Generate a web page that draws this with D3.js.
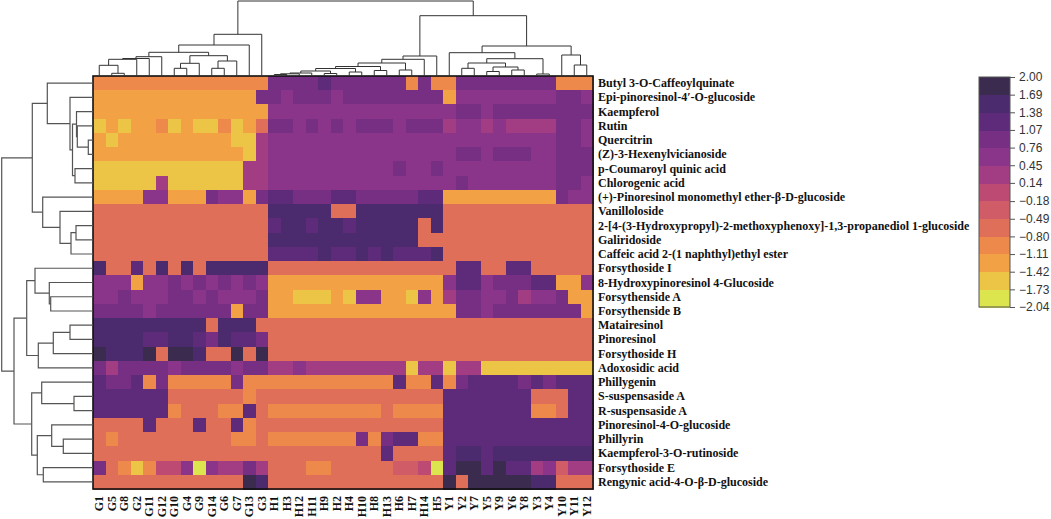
<!DOCTYPE html>
<html><head><meta charset="utf-8">
<script src="https://cdn.jsdelivr.net/npm/d3@7"></script>
<style>body{margin:0;background:#fff}</style>
</head><body>
<svg id="chart" width="1051" height="519"></svg>
<script>
const columns = ["G1","G5","G8","G2","G11","G12","G10","G4","G9","G14","G6","G7","G13","G3",
  "H1","H3","H12","H11","H9","H2","H4","H10","H8","H13","H6","H7","H14","H5",
  "Y1","Y2","Y7","Y5","Y9","Y6","Y8","Y3","Y4","Y10","Y11","Y12"];
const rows = ["Butyl 3-O-Caffeoylquinate","Epi-pinoresinol-4\u2032-O-glucoside","Kaempferol","Rutin","Quercitrin",
  "(Z)-3-Hexenylvicianoside","p-Coumaroyl quinic acid","Chlorogenic acid",
  "(+)-Pinoresinol monomethyl ether-\u03b2-D-glucoside","Vanilloloside",
  "2-[4-(3-Hydroxypropyl)-2-methoxyphenoxy]-1,3-propanediol 1-glucoside","Galiridoside",
  "Caffeic acid 2-(1 naphthyl)ethyl ester","Forsythoside I","8-Hydroxypinoresinol 4-Glucoside",
  "Forsythenside A","Forsythenside B","Matairesinol","Pinoresinol","Forsythoside H","Adoxosidic acid",
  "Phillygenin","S-suspensaside A","R-suspensaside A","Pinoresinol-4-O-glucoside","Phillyrin",
  "Kaempferol-3-O-rutinoside","Forsythoside E","Rengynic acid-4-O-\u03b2-D-glucoside"];

const values = [
[-0.95,-0.95,-0.95,-0.95,-0.95,-0.95,-0.95,-0.95,-0.95,-0.95,-0.95,-0.95,-0.95,-0.95, 0.91,0.91,0.91,0.91,1.22,0.91,0.91,0.91,0.91,0.91,0.91,-0.95,0.91,-0.95, -0.95,0.91,0.91,0.91,0.91,0.91,0.91,0.91,0.91,-0.95,-0.95,-0.95],
[-1.26,-1.26,-1.26,-1.26,-1.26,-1.26,-1.26,-1.26,-1.26,-1.26,-1.26,-1.26,-1.26,0.91, 0.91,0.6,0.91,0.91,0.91,0.6,0.91,0.91,0.91,0.91,0.91,0.91,0.91,0.91, -1.26,0.6,0.6,0.6,0.6,0.6,0.6,0.6,0.6,0.91,0.91,0.6],
[-1.26,-1.26,-1.26,-1.26,-1.26,-1.26,-1.26,-1.26,-1.26,-1.26,-1.26,-1.26,-1.26,-1.26, 0.6,0.6,0.6,0.6,0.6,0.6,0.6,0.6,0.6,0.6,0.6,0.6,0.6,0.6, 0.6,0.91,0.91,0.6,0.91,0.91,0.91,0.91,0.91,0.91,0.91,0.91],
[-1.57,-1.26,-1.57,-1.26,-1.26,-0.95,-1.57,-1.26,-1.57,-1.57,-0.95,-1.57,-1.26,-0.64, 0.91,0.91,0.6,0.91,0.6,0.91,0.6,0.91,0.91,0.91,0.6,0.91,0.91,0.91, 0.29,0.6,0.6,0.29,0.6,0.29,0.29,0.29,0.29,0.91,0.91,0.6],
[-1.26,-1.57,-1.26,-1.26,-1.26,-1.26,-1.26,-1.26,-1.26,-1.26,-1.26,-1.57,-1.57,0.29, 0.6,0.6,0.6,0.6,0.6,0.6,0.6,0.6,0.6,0.6,0.6,0.6,0.6,0.6, 0.6,0.6,0.6,0.6,0.6,0.6,0.6,0.6,0.6,0.91,0.91,0.6],
[-1.26,-1.26,-1.26,-1.26,-1.26,-1.26,-1.26,-1.26,-1.26,-1.26,-1.26,-1.26,-1.57,0.29, 0.6,0.6,0.6,0.6,0.6,0.6,0.6,0.6,0.6,0.6,0.6,0.6,0.6,0.6, 0.6,0.91,0.91,0.6,0.91,0.91,0.91,0.6,0.6,0.91,0.91,0.91],
[-1.57,-1.57,-1.57,-1.57,-1.57,-1.57,-1.57,-1.57,-1.57,-1.57,-1.57,-1.57,0.29,0.29, 0.6,0.6,0.6,0.6,0.6,0.6,0.6,0.6,0.6,0.6,0.91,0.6,0.6,0.91, 0.6,0.6,0.6,0.6,0.6,0.6,0.6,0.6,0.6,0.91,0.91,0.91],
[-1.57,-1.57,-1.57,-1.57,-1.57,0.29,-1.57,-1.57,-1.57,-1.57,-1.57,-1.57,0.29,0.29, 0.6,0.6,0.6,0.6,0.6,0.6,0.6,0.6,0.6,0.6,0.6,0.6,0.6,0.6, 0.6,0.91,0.6,0.6,0.6,0.6,0.6,0.6,0.6,0.91,0.91,0.6],
[-1.26,-1.26,-1.26,-1.26,0.6,0.6,-1.26,-1.26,-1.26,0.91,0.6,0.6,-1.26,0.91, 1.22,1.22,0.91,0.91,0.91,1.22,1.22,0.91,0.91,0.91,0.91,0.91,1.22,1.22, -1.26,-1.26,-1.26,-1.26,-1.26,-1.26,-1.26,-1.26,-1.26,0.91,0.6,0.6],
[-0.64,-0.64,-0.64,-0.64,-0.64,-0.64,-0.64,-0.64,-0.64,-0.64,-0.64,-0.64,-0.64,-0.64, 1.53,1.53,1.53,1.53,1.53,-0.64,-0.64,1.53,1.53,1.53,1.53,1.53,1.53,1.53, -0.64,-0.64,-0.64,-0.64,-0.64,-0.64,-0.64,-0.64,-0.64,-0.64,-0.64,-0.64],
[-0.64,-0.64,-0.64,-0.64,-0.64,-0.64,-0.64,-0.64,-0.64,-0.64,-0.64,-0.64,-0.64,-0.64, 1.22,1.53,1.53,1.22,1.53,1.53,1.22,1.53,1.53,1.53,1.53,1.53,-0.64,1.53, -0.64,-0.64,-0.64,-0.64,-0.64,-0.64,-0.64,-0.64,-0.64,-0.64,-0.64,-0.64],
[-0.64,-0.64,-0.64,-0.64,-0.64,-0.64,-0.64,-0.64,-0.64,-0.64,-0.64,-0.64,-0.64,-0.64, 1.53,1.53,1.53,1.53,1.53,1.53,1.53,1.53,1.53,1.53,1.53,1.53,-0.64,-0.64, -0.64,-0.64,-0.64,-0.64,-0.64,-0.64,-0.64,-0.64,-0.64,-0.64,-0.64,-0.64],
[-0.64,-0.64,-0.64,-0.64,-0.64,-0.64,-0.64,-0.64,-0.64,-0.64,-0.64,-0.64,-0.64,-0.64, 1.22,1.22,1.22,1.22,1.53,1.22,1.22,1.53,1.22,1.53,1.22,1.22,1.22,1.53, -0.64,-0.64,-0.64,-0.64,-0.64,-0.64,-0.64,-0.64,-0.64,-0.64,-0.64,-0.64],
[1.53,-0.64,-0.64,1.22,-0.64,1.53,-0.64,1.53,-0.64,1.53,1.53,1.53,1.53,1.53, -0.64,-0.64,-0.64,-0.64,-0.64,-0.64,-0.64,-0.64,-0.64,-0.64,-0.64,-0.64,-0.64,-0.64, -0.64,1.22,1.22,-0.64,-0.64,1.22,1.22,-0.64,-0.64,-0.64,-0.64,-0.64],
[0.6,0.6,0.6,-1.26,0.6,0.6,0.91,0.6,0.91,0.6,0.91,0.6,0.91,0.6, -1.26,-1.26,-1.26,-1.26,-1.26,-1.26,-1.26,-1.26,-1.26,-1.26,-1.26,-1.26,-1.26,-1.26, 0.6,1.22,1.22,0.6,0.91,0.91,0.91,1.22,1.22,-1.26,-1.26,0.6],
[0.6,0.6,0.91,0.6,0.6,0.6,0.91,0.91,0.6,0.91,0.6,0.6,0.6,0.91, -1.26,-1.26,-1.57,-1.57,-1.57,-1.26,-1.57,0.6,0.6,-1.26,-1.26,-1.57,0.6,-1.26, 0.29,0.91,0.91,0.6,0.6,0.91,0.29,0.6,0.6,0.91,-1.26,-1.26],
[0.91,0.91,0.91,0.91,0.6,0.91,0.91,0.91,0.91,0.91,0.91,-1.26,0.91,0.91, -1.26,-1.26,-1.26,-1.26,-1.26,-1.26,-1.26,-1.26,-1.26,-1.26,-1.26,-1.26,-1.26,-1.26, -1.26,0.91,0.91,0.6,0.91,0.91,0.91,0.91,0.91,0.91,0.91,-1.26],
[1.53,1.53,1.53,1.53,1.53,1.53,1.53,1.53,1.53,-0.64,1.53,1.53,1.53,-0.64, -0.64,-0.64,-0.64,-0.64,-0.64,-0.64,-0.64,-0.64,-0.64,-0.64,-0.64,-0.64,-0.64,-0.64, -0.64,-0.64,-0.64,-0.64,-0.64,-0.64,-0.64,-0.64,-0.64,-0.64,-0.64,-0.64],
[1.53,1.53,1.53,1.53,1.22,1.22,1.53,1.53,1.22,0.91,1.53,1.22,1.22,0.91, -0.64,-0.64,-0.64,-0.64,-0.64,-0.64,-0.64,-0.64,-0.64,-0.64,-0.64,-0.64,-0.64,-0.64, -0.64,-0.64,-0.64,-0.64,-0.64,-0.64,-0.64,-0.64,-0.64,-0.64,-0.64,-0.64],
[1.84,1.53,1.53,1.53,1.84,-0.64,1.84,1.84,1.53,-0.64,-0.64,1.84,-0.64,1.84, -0.64,-0.64,-0.64,-0.64,-0.64,-0.64,-0.64,-0.64,-0.64,-0.64,-0.64,-0.64,-0.64,-0.64, -0.64,-0.64,-0.64,-0.64,-0.64,-0.64,-0.64,-0.64,-0.64,-0.64,-0.64,-0.64],
[0.91,0.29,0.91,0.91,0.91,0.91,0.6,0.91,0.91,0.91,0.91,0.6,0.91,0.91, 0.29,0.29,0.6,0.29,0.29,0.29,0.29,0.29,0.29,0.29,0.29,-1.57,0.29,0.29, -1.57,0.29,0.29,-1.57,-1.57,-1.57,-1.57,-1.57,-1.57,-1.57,-1.57,-1.57],
[1.22,0.91,0.91,1.22,-0.95,0.91,-0.95,-0.95,-0.95,-0.95,-0.95,0.91,-0.95,-0.95, -0.95,-0.95,-0.95,-0.95,-0.95,-0.95,-0.95,-0.95,-0.95,-0.95,1.22,-0.95,-0.95,1.22, -0.95,0.91,1.22,1.22,1.22,1.22,0.91,1.22,0.91,1.22,1.22,1.22],
[1.22,1.22,1.22,1.22,1.22,1.22,-0.64,-0.64,-0.64,-0.64,-0.64,-0.64,-0.95,-0.64, -0.64,-0.64,-0.64,-0.64,-0.64,-0.64,-0.64,-0.64,-0.64,-0.64,-0.64,-0.64,-0.64,-0.64, 1.22,1.22,1.22,1.22,1.22,1.22,1.22,-0.64,-0.64,-0.64,1.22,1.22],
[1.22,1.22,1.22,1.22,1.22,1.22,-0.95,-0.64,-0.64,-0.64,-0.95,-0.95,1.22,-0.64, -0.95,-0.95,-0.95,-0.95,-0.95,-0.95,-0.95,-0.95,-0.95,-0.64,-0.95,-0.95,-0.95,-0.95, 1.22,1.22,1.22,1.22,1.22,1.22,1.22,-0.95,-0.95,-0.64,1.22,1.22],
[-0.64,-0.64,-0.64,-0.64,1.22,-0.64,-0.64,-0.64,1.22,-0.64,-0.64,1.22,-0.95,-0.64, -0.64,-0.64,-0.64,-0.64,-0.64,-0.64,-0.64,-0.64,-0.64,-0.64,-0.64,-0.64,-0.64,-0.64, 1.22,1.22,1.22,1.22,1.22,1.22,1.22,1.22,1.22,1.22,1.22,1.22],
[-0.64,-0.95,-0.64,-0.64,-0.64,-0.64,-0.64,-0.64,-0.64,-0.64,-0.64,-0.95,-0.95,-0.64, -0.95,-0.95,-0.95,-0.95,-0.95,-0.95,-0.95,0.91,-0.95,0.91,1.22,1.22,-0.95,-0.95, 1.22,1.22,1.22,1.22,1.22,1.22,1.22,1.22,1.22,1.22,1.22,1.22],
[-0.64,-0.64,-0.64,-0.64,-0.64,-0.64,-0.64,-0.64,-0.64,-0.64,-0.64,-0.64,-0.64,-0.64, -0.64,-0.64,-0.64,-0.64,-0.64,-0.64,-0.64,-0.64,-0.64,1.22,-0.64,-0.64,-0.64,-0.64, 1.22,1.53,1.53,1.22,1.53,1.53,1.53,1.53,1.53,1.53,1.53,1.53],
[0.91,-0.64,-0.95,-1.57,-0.95,-0.02,-0.02,0.6,-1.88,0.6,0.29,0.29,0.91,0.29, -0.64,-0.64,-0.64,-0.95,-0.95,-0.64,-0.64,-0.64,-0.64,-0.64,-0.33,-0.33,-0.02,-1.88, 1.22,1.84,1.84,1.22,1.84,1.22,1.22,0.29,0.6,-0.33,0.29,0.29],
[-0.64,-0.64,-0.64,-0.64,-0.64,-0.64,-0.64,-0.64,-0.64,-0.64,-0.64,-0.64,1.84,1.53, -0.64,-0.64,-0.64,-0.64,-0.64,-0.64,-0.64,-0.64,-0.64,-0.64,-0.64,-0.64,-0.64,-0.64, 1.84,-0.64,1.84,1.84,1.84,1.84,1.84,1.53,1.53,-0.64,-0.64,-0.64]
];

const legendTicks = [2.00,1.69,1.38,1.07,0.76,0.45,0.14,-0.18,-0.49,-0.80,-1.11,-1.42,-1.73,-2.04];
const bandColors = ["#dce54e","#ecc446","#f2a145","#ed894b","#df6f58","#cf5c66","#bd4a73",
  "#a23d84","#8b358a","#762f83","#5e2b7a","#4b2a6d","#3b2c4f"];

// dendrograms: [mergeHeight, left, right]; leaves are column names / row indices
const colTree = [75,
  [41.7,
    [31,
      [23.7,
        [19.3, [17.5, [16.7, [10.7, "G1", [2.7, "G5", "G8"]], "G2"], "G11"], "G12"],
        [20.3, [12.7, [7.7, "G10", "G4"], "G9"], [15, [7.7, "G14", "G6"], "G7"]]
      ],
      "G13"],
    "G3"],
  [60.3,
    [20,
      [16.7,
        [13,
          [9.5,
            [7.5, [5, [3, [2.2, [1.5, "H1", "H3"], "H12"], "H11"], [2.5, "H9", "H2"]], [4, "H4", "H10"]],
            [5.5, "H8", "H13"]],
          [6, "H6", "H7"]],
        "H14"],
      "H5"],
    [30,
      [23.3, "Y1",
        [17.3, [13, [7.7, "Y2", "Y7"], [9, [4.5, "Y5", "Y9"], [6, "Y6", "Y8"]]], [2, "Y3", "Y4"]]],
      [21, "Y10", [11, "Y11", "Y12"]]]
  ]
];

const rowTree = [91.3,
  [60.7,
    [45.7, 0,
      [23, 1,
        [20.5,
          [16.5, 2, [15.7, 3, [4.7, 4, 5]]],
          [18, 6, 7]]]],
    [50.3, 8, [33, 9, [22, [17, 10, 11], 12]]]],
  [79,
    [66.3,
      [58, 13, [43.7, 14, [42.3, 15, 16]]],
      [54.7, [39.7, [23, 17, 18], 19], 20]],
    [61.3,
      [51.3, 21, [19, 22, 23]],
      [55.7, [41.3, 24, [29.7, 25, 26]], [49.7, 27, 28]]]]
];

const svg = d3.select("#chart");
const HM = {left: 93, right: 593, top: 76, bottom: 489};

const x = d3.scaleBand().domain(columns).range([HM.left, HM.right]);
const y = d3.scaleBand().domain(d3.range(rows.length)).range([HM.top, HM.bottom]);
const color = d3.scaleQuantize().domain([-2.04, 2.00]).range(bandColors);

// heatmap cells
const cells = [];
values.forEach((row, i) => row.forEach((v, j) => cells.push({r: i, c: columns[j], v})));
svg.append("g").attr("shape-rendering", "crispEdges")
  .selectAll("rect").data(cells).join("rect")
  .attr("x", d => x(d.c)).attr("y", d => y(d.r))
  .attr("width", x.bandwidth() + 0.5).attr("height", y.bandwidth() + 0.5)
  .attr("fill", d => color(d.v));

svg.append("rect").attr("x", HM.left).attr("y", HM.top)
  .attr("width", HM.right - HM.left).attr("height", HM.bottom - HM.top)
  .attr("fill", "none").attr("stroke", "#111").attr("stroke-width", 1.6);

// dendrogram helper
function buildTree(tree, leafPos) {
  const root = d3.hierarchy(tree, d => Array.isArray(d) ? d.slice(1) : null);
  root.eachAfter(n => {
    if (n.children) { n.pos = (n.children[0].pos + n.children[1].pos) / 2; n.h = n.data[0]; }
    else { n.pos = leafPos(n.data); n.h = 0; }
  });
  return root;
}

const topH = d3.scaleLinear().domain([0, 75]).range([HM.top, 1]);
const colRoot = buildTree(colTree, d => x(d) + x.bandwidth() / 2);
svg.append("g").selectAll("path").data(colRoot.descendants().filter(n => n.children)).join("path")
  .attr("d", n => {
    const [a, b] = n.children;
    return `M${a.pos},${topH(a.h)}V${topH(n.h)}H${b.pos}V${topH(b.h)}`;
  })
  .attr("fill", "none").attr("stroke", "#333").attr("stroke-width", 1);

const leftH = d3.scaleLinear().domain([0, 92]).range([HM.left, 1]);
const rowRoot = buildTree(rowTree, d => y(d) + y.bandwidth() / 2);
svg.append("g").selectAll("path").data(rowRoot.descendants().filter(n => n.children)).join("path")
  .attr("d", n => {
    const [a, b] = n.children;
    return `M${leftH(a.h)},${a.pos}H${leftH(n.h)}V${b.pos}H${leftH(b.h)}`;
  })
  .attr("fill", "none").attr("stroke", "#555").attr("stroke-width", 1.2);

// row labels
svg.append("g").selectAll("text").data(rows).join("text")
  .attr("x", HM.right + 5).attr("y", (d, i) => y(i) + y.bandwidth() / 2)
  .attr("dominant-baseline", "central")
  .style("font", "bold 12px 'Liberation Serif', 'Times New Roman', serif").attr("fill", "#111")
  .text(d => d);

// column labels
svg.append("g").selectAll("text").data(columns).join("text")
  .attr("transform", d => `translate(${x(d) + x.bandwidth() / 2},${HM.bottom + 7}) rotate(-90)`)
  .attr("text-anchor", "end").attr("dominant-baseline", "central")
  .style("font", "bold 12px 'Liberation Serif', 'Times New Roman', serif").attr("fill", "#111")
  .text(d => d);

// legend
const lg = {x: 979, w: 31, top: 77, bottom: 307};
const ly = d3.scaleLinear().domain([-2.04, 2.00]).range([lg.bottom, lg.top]);
const legend = svg.append("g");
legend.append("g").attr("shape-rendering", "crispEdges")
  .selectAll("rect").data(bandColors).join("rect")
  .attr("x", lg.x).attr("width", lg.w)
  .attr("y", c => ly(color.invertExtent(c)[1]))
  .attr("height", c => ly(color.invertExtent(c)[0]) - ly(color.invertExtent(c)[1]) + 0.5)
  .attr("fill", c => c);
legend.append("rect").attr("x", lg.x).attr("y", lg.top).attr("width", lg.w).attr("height", lg.bottom - lg.top)
  .attr("fill", "none").attr("stroke", "#555").attr("stroke-width", 1);
const axis = legend.append("g").attr("transform", `translate(${lg.x + lg.w},0)`)
  .call(d3.axisRight(ly).tickValues(legendTicks).tickFormat(d3.format(".2f")).tickSize(5).tickPadding(4));
axis.select(".domain").remove();
axis.selectAll("line").attr("stroke", "#555");
axis.selectAll("text").style("font", "12px 'Liberation Sans', Arial, sans-serif").attr("fill", "#333");
</script>
</body></html>
